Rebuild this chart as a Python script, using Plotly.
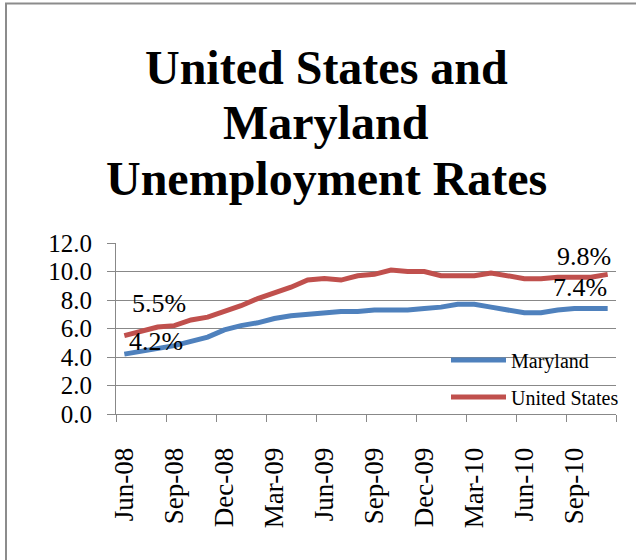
import plotly.graph_objects as go

# Monthly unemployment rates (%), June 2008 - November 2010
months = [
    "Jun-08", "Jul-08", "Aug-08", "Sep-08", "Oct-08", "Nov-08", "Dec-08",
    "Jan-09", "Feb-09", "Mar-09", "Apr-09", "May-09", "Jun-09", "Jul-09",
    "Aug-09", "Sep-09", "Oct-09", "Nov-09", "Dec-09", "Jan-10", "Feb-10",
    "Mar-10", "Apr-10", "May-10", "Jun-10", "Jul-10", "Aug-10", "Sep-10",
    "Oct-10", "Nov-10",
]
maryland = [4.2, 4.4, 4.6, 4.8, 5.1, 5.4, 5.9, 6.2, 6.4, 6.7, 6.9, 7.0, 7.1, 7.2, 7.2,
            7.3, 7.3, 7.3, 7.4, 7.5, 7.7, 7.7, 7.5, 7.3, 7.1, 7.1, 7.3, 7.4, 7.4, 7.4]
united_states = [5.5, 5.8, 6.1, 6.2, 6.6, 6.8, 7.2, 7.6, 8.1, 8.5, 8.9, 9.4, 9.5, 9.4, 9.7,
                 9.8, 10.1, 10.0, 10.0, 9.7, 9.7, 9.7, 9.9, 9.7, 9.5, 9.5, 9.6, 9.6, 9.6, 9.8]
y_ticks = [0, 2, 4, 6, 8, 10, 12]
title_lines = ["United States and", "Maryland", "Unemployment Rates"]

FONT = "Liberation Serif"
BLUE = "#4F81BD"
RED = "#C0504D"
GRID = "#888888"

W, H = 636, 560
M_L, M_R, M_T, M_B = 116, 20, 243, 146
PLOT_H = H - M_T - M_B


def py(pixel_y):
    """Figure pixel row -> paper y coordinate."""
    return (H - M_B - pixel_y) / PLOT_H


x = list(range(len(months)))
label_idx = x[::3]
label_text = [months[i] for i in label_idx]
boundaries = [i - 0.5 for i in x[::3]] + [len(months) - 0.5]

fig = go.Figure()
fig.add_trace(go.Scatter(x=x, y=maryland, mode="lines", name="Maryland",
                         legendgroup="md",
                         line=dict(color=BLUE, width=5)))
fig.add_trace(go.Scatter(x=x, y=united_states, mode="lines", name="United States",
                         legendgroup="us",
                         line=dict(color=RED, width=5)))

# Value labels at the first and last month of each series
ends = [
    (0, united_states[0], 35, 32, "center"),
    (0, maryland[0], 32, 13, "center"),
    (len(months) - 1, united_states[-1], 5, 18, "right"),
    (len(months) - 1, maryland[-1], 1, 21, "right"),
]
for xi, yv, dx, dy, anchor in ends:
    fig.add_annotation(x=xi, y=yv, text=f"{yv:.1f}%", showarrow=False,
                       xanchor=anchor, yanchor="middle", xshift=dx, yshift=dy,
                       font=dict(family=FONT, size=26, color="black"))

# Chart title, one line per annotation for tighter line spacing
for line, centre_y in zip(title_lines, [67, 122.5, 178.5]):
    fig.add_annotation(xref="paper", yref="paper",
                       x=(326 - M_L) / (W - M_L - M_R), y=py(centre_y),
                       text=f"<b>{line}</b>", showarrow=False,
                       xanchor="center", yanchor="middle",
                       font=dict(family=FONT, size=48, color="black"))

# Outer chart frame
fig.add_shape(type="rect", xref="paper", yref="paper",
              x0=(6 - M_L) / (W - M_L - M_R), x1=1.3, y0=-1.2, y1=py(3.5),
              line=dict(color="#8c8c8c", width=2), layer="below")

fig.update_layout(
    width=W, height=H,
    margin=dict(l=M_L, r=M_R, t=M_T, b=M_B),
    paper_bgcolor="white", plot_bgcolor="white",
    font=dict(family=FONT, color="black"),
    showlegend=True,
    legend=dict(x=0.66, y=0.43, xanchor="left", yanchor="top",
                bgcolor="rgba(0,0,0,0)", borderwidth=0,
                tracegroupgap=8, itemwidth=55,
                font=dict(family=FONT, size=20, color="black")),
    xaxis=dict(range=[-0.5, len(months) - 0.5], showgrid=False, zeroline=False,
               tickmode="array", tickvals=label_idx, ticktext=label_text,
               tickangle=-90, ticks="", ticklabelstandoff=22,
               tickfont=dict(family=FONT, size=27, color="black"),
               showline=True, linecolor=GRID, linewidth=1,
               minor=dict(tickmode="array", tickvals=boundaries, ticks="outside",
                          ticklen=7, tickcolor=GRID, tickwidth=1, showgrid=False)),
    yaxis=dict(range=[0, 12], tickmode="array", tickvals=y_ticks,
               ticktext=[f"{v:.1f}" for v in y_ticks],
               showgrid=True, gridcolor=GRID, gridwidth=1, zeroline=False,
               ticks="outside", ticklen=8, tickcolor=GRID, ticklabelstandoff=10,
               showline=True, linecolor=GRID, linewidth=1,
               tickfont=dict(family=FONT, size=25, color="black")),
)

fig.write_html("out.html")
